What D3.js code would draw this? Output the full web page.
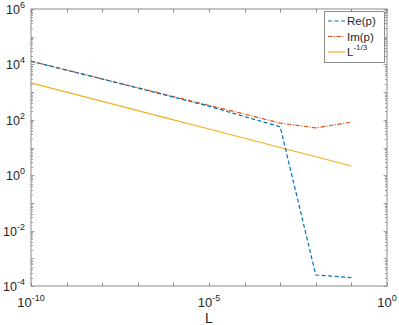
<!DOCTYPE html>
<html>
<head>
<meta charset="utf-8">
<script src="https://cdn.jsdelivr.net/npm/d3@7"></script>
<style>
body { margin:0; background:#fff; }
text { font-family: "Liberation Sans", Arial, Helvetica, sans-serif; fill:#262626; }
</style>
</head>
<body>
<script>
// ***************** DATA ********************
var L = [1e-10, 1e-9, 1e-8, 1e-7, 1e-6, 1e-5, 1e-4, 1e-3, 1e-2, 1e-1];
var rePart = [13000, 6200, 2950, 1400, 660, 310, 130, 56, 2.5e-4, 2e-4];
var imPart = [13000, 6300, 3000, 1450, 690, 330, 160, 76, 51, 83];
var powerLaw = [2154, 1000, 464, 215, 100, 46.4, 21.5, 10, 4.64, 2.15];
var xTickLabels = [-10, -5, 0];
var yTickLabels = [-4, -2, 0, 2, 4, 6];
var legendNames = ["Re(p)", "Im(p)", "L"];

var width = 399, height = 325;
var margin = {left:31, right:387, top:9, bottom:286};

var svg = d3.select("body").append("svg")
	.attr("width", width)
	.attr("height", height);

var x = d3.scaleLog().domain([1e-10, 1]).range([margin.left, margin.right]);
var y = d3.scaleLog().domain([1e-4, 1e6]).range([margin.bottom, margin.top]);

// ************************ AXES BOX *************************
svg.append("rect")
	.attr("x", margin.left)
	.attr("y", margin.top)
	.attr("width", margin.right - margin.left)
	.attr("height", margin.bottom - margin.top)
	.attr("fill", "#fff")
	.attr("stroke", "#8c8c8c")
	.attr("stroke-width", 1);

// x ticks at every decade, top and bottom
var xDecades = d3.range(-10, 1).map(function(e){ return Math.pow(10, e); });
xDecades.forEach(function(v){
	var px = Math.round(x(v)) + 0.5;
	svg.append("line").attr("x1", px).attr("x2", px)
		.attr("y1", margin.bottom).attr("y2", margin.bottom - 3.5)
		.attr("stroke", "#8c8c8c");
	svg.append("line").attr("x1", px).attr("x2", px)
		.attr("y1", margin.top).attr("y2", margin.top + 3.5)
		.attr("stroke", "#8c8c8c");
});

// y ticks: majors at decades, minors 2..9
for (var e = -4; e <= 6; e++) {
	for (var m = 1; m <= 9; m++) {
		if (e === 6 && m > 1) break;
		var v = m * Math.pow(10, e);
		var py = Math.round(y(v)) + 0.5;
		var len = m === 1 ? 3.5 : 2;
		svg.append("line").attr("x1", margin.left).attr("x2", margin.left + len)
			.attr("y1", py).attr("y2", py).attr("stroke", "#8c8c8c").attr("stroke-width", 0.8);
		svg.append("line").attr("x1", margin.right).attr("x2", margin.right - len)
			.attr("y1", py).attr("y2", py).attr("stroke", "#8c8c8c").attr("stroke-width", 0.8);
	}
}

// tick labels as 10 with superscript
var powerLabel = function(g, exp, size){
	g.append("tspan").attr("font-size", size).text("10");
	g.append("tspan").attr("font-size", 9).attr("dy", -6).text(exp);
};

xTickLabels.forEach(function(e){
	var t = svg.append("text")
		.attr("x", x(Math.pow(10, e)))
		.attr("y", 307)
		.attr("text-anchor", "middle");
	powerLabel(t, String(e), 13);
});

yTickLabels.forEach(function(e){
	var t = svg.append("text")
		.attr("x", 25)
		.attr("y", y(Math.pow(10, e)) + 5)
		.attr("text-anchor", "end");
	powerLabel(t, String(e), 12.5);
});

svg.append("text")
	.attr("x", (margin.left + margin.right) / 2)
	.attr("y", 323)
	.attr("text-anchor", "middle")
	.attr("font-size", 14)
	.text("L");

// ************************ LINES *************************
var series = [
	{values: rePart, color: "#0072BD", dash: "4,2.5"},
	{values: imPart, color: "#D95319", dash: "4.5,1.5,1,1.5"},
	{values: powerLaw, color: "#EDB120", dash: null}
];

var line = d3.line()
	.x(function(d){ return x(d[0]); })
	.y(function(d){ return y(d[1]); });

series.slice().reverse().forEach(function(s){
	svg.append("path")
		.datum(L.map(function(l, i){ return [l, s.values[i]]; }))
		.attr("d", line)
		.attr("fill", "none")
		.attr("stroke", s.color)
		.attr("stroke-width", 1.2)
		.attr("stroke-dasharray", s.dash);
});

// ************************ LEGEND *************************
var lg = {x:324, y:11, w:60, h:51};
svg.append("rect")
	.attr("x", lg.x + 0.5).attr("y", lg.y + 0.5)
	.attr("width", lg.w).attr("height", lg.h)
	.attr("fill", "#fff").attr("stroke", "#8c8c8c");

series.forEach(function(s, i){
	var ly = lg.y + 10 + i * 15.5;
	svg.append("line")
		.attr("x1", lg.x + 4).attr("x2", lg.x + 21)
		.attr("y1", ly).attr("y2", ly)
		.attr("stroke", s.color).attr("stroke-width", 1.2)
		.attr("stroke-dasharray", s.dash);
	var t = svg.append("text")
		.attr("x", lg.x + 23)
		.attr("y", ly + 4)
		.attr("font-size", 11.5)
		.text(legendNames[i]);
	if (i === 2) {
		t.append("tspan").attr("font-size", 8).attr("dy", -6).text("-1/3");
	}
});
</script>
</body>
</html>
